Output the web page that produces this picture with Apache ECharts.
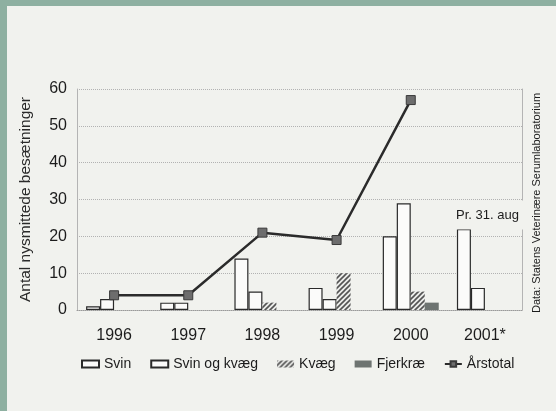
<!DOCTYPE html>
<html>
<head>
<meta charset="utf-8">
<script src="https://cdn.jsdelivr.net/npm/echarts@6/dist/echarts.min.js"></script>
<style>
  html, body { margin: 0; padding: 0; background: #f1f2ee; }
  #chart { width: 556px; height: 411px; }
</style>
</head>
<body>
<div id="chart"></div>
<script>
// Nysmittede besætninger pr. år, fordelt på besætningstype
const years = ['1996', '1997', '1998', '1999', '2000', '2001*'];
const svin = [1, 2, 14, 6, 20, 22];
const svinOgKvaeg = [3, 2, 5, 3, 29, 6];
const kvaeg = [0, 0, 2, 10, 5, 0];
const fjerkrae = [0, 0, 0, 0, 2, 0];
const aarstotal = [4, 4, 21, 19, 57, null];

const seriesNames = ['Svin', 'Svin og kvæg', 'Kvæg', 'Fjerkræ', 'Årstotal'];
const yTitle = 'Antal nysmittede besætninger';
const sourceNote = 'Data: Statens Veterinære Serumlaboratorium';
const dateNote = 'Pr. 31. aug';

// diagonal hatch fill for the "Kvæg" bars
function hatchPattern() {
  const c = document.createElement('canvas');
  c.width = 5; c.height = 5;
  const g = c.getContext('2d');
  g.fillStyle = '#ecedea';
  g.fillRect(0, 0, 5, 5);
  g.strokeStyle = '#545454';
  g.lineWidth = 1.6;
  g.beginPath();
  g.moveTo(-1, 6); g.lineTo(6, -1);
  g.moveTo(-1, 1); g.lineTo(1, -1);
  g.moveTo(4, 6); g.lineTo(6, 4);
  g.stroke();
  return { image: c, repeat: 'repeat' };
}

const textColor = '#1c1c1c';
const fontFamily = 'Liberation Sans, Arial, sans-serif';

const outlineBar = {
  color: '#fbfbfa',
  borderColor: '#2a2a2a',
  borderWidth: 1.2
};

const chart = echarts.init(document.getElementById('chart'), null, { renderer: 'canvas' });

chart.setOption({
  backgroundColor: '#f1f2ee',
  animation: false,
  textStyle: { fontFamily: fontFamily, color: textColor },
  grid: { left: 77, right: 34, top: 89, bottom: 101, containLabel: false },
  legend: {
    bottom: 35,
    left: 76,
    itemGap: 19,
    itemWidth: 17,
    itemHeight: 7,
    textStyle: { fontSize: 14, color: textColor },
    data: [
      { name: seriesNames[0], icon: 'rect' },
      { name: seriesNames[1], icon: 'rect' },
      { name: seriesNames[2], icon: 'rect' },
      { name: seriesNames[3], icon: 'rect' },
      { name: seriesNames[4] }
    ]
  },
  xAxis: {
    type: 'category',
    data: years,
    boundaryGap: true,
    axisLine: { show: true, lineStyle: { color: '#9a9a9a', type: 'dotted', width: 1 } },
    axisTick: { show: false },
    axisLabel: { fontSize: 16, color: textColor, margin: 18 }
  },
  yAxis: [
    {
      type: 'value',
      min: 0,
      max: 60,
      interval: 10,
      name: yTitle,
      nameLocation: 'middle',
      nameRotate: 90,
      nameGap: 43,
      nameTextStyle: { fontSize: 15.5, color: '#2a2a2a' },
      axisLine: { show: true, lineStyle: { color: '#b4b4b4', width: 1 } },
      axisTick: { show: false },
      axisLabel: { fontSize: 16, color: textColor, margin: 10 },
      splitLine: { show: true, lineStyle: { color: '#b2b2b2', type: 'dotted', width: 1 } }
    },
    {
      type: 'value',
      min: 0,
      max: 60,
      interval: 10,
      position: 'right',
      axisLine: { show: true, lineStyle: { color: '#b4b4b4', width: 1 } },
      axisTick: { show: false },
      axisLabel: { show: false },
      splitLine: { show: false }
    }
  ],
  series: [
    {
      name: seriesNames[0], type: 'bar', data: svin,
      barWidth: 14, barGap: '0%',
      itemStyle: outlineBar
    },
    {
      name: seriesNames[1], type: 'bar', data: svinOgKvaeg,
      barWidth: 14, barGap: '0%',
      itemStyle: outlineBar
    },
    {
      name: seriesNames[2], type: 'bar', data: kvaeg,
      barWidth: 14, barGap: '0%',
      itemStyle: { color: hatchPattern(), borderWidth: 0 }
    },
    {
      name: seriesNames[3], type: 'bar', data: fjerkrae,
      barWidth: 14, barGap: '0%',
      itemStyle: { color: '#6e7471', borderWidth: 0 }
    },
    {
      name: seriesNames[4], type: 'line', data: aarstotal,
      connectNulls: false,
      symbol: 'rect', symbolSize: 9,
      lineStyle: { color: '#2b2b2b', width: 2.5 },
      itemStyle: { color: '#6d6d6d', borderColor: '#3a3a3a', borderWidth: 1 },
      z: 5
    }
  ],
  graphic: [
    // frame strips along the top and left edge
    { type: 'rect', left: 0, top: 0, shape: { width: 556, height: 6 }, style: { fill: '#8eb0a1' }, silent: true },
    { type: 'rect', left: 0, top: 0, shape: { width: 7, height: 411 }, style: { fill: '#8eb0a1' }, silent: true },
    {
      type: 'text',
      x: 453, y: 215,
      z: 10,
      style: {
        text: dateNote,
        font: '13px ' + fontFamily,
        fill: textColor,
        verticalAlign: 'middle',
        backgroundColor: '#f1f2ee',
        padding: [8, 10, 8, 3]
      }
    },
    {
      type: 'text',
      x: 537, y: 203,
      rotation: Math.PI / 2,
      style: {
        text: sourceNote,
        font: '11px ' + fontFamily,
        fill: textColor,
        align: 'center',
        verticalAlign: 'middle'
      }
    }
  ]
});
</script>
</body>
</html>
